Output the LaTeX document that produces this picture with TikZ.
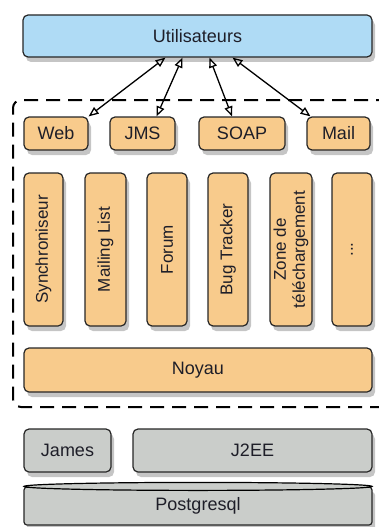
\documentclass[tikz,border=0pt]{standalone}
\usepackage{fontspec}
\newfontfamily\diagfont{Liberation Sans}
\usepackage{tikz}
\usetikzlibrary{
    arrows.meta,
    positioning,
    shadows
}
\definecolor{userblue}{HTML}{AFDBF5}
\definecolor{modorange}{HTML}{F8CB8C}
\definecolor{infragray}{HTML}{CACDCA}
\definecolor{shadowgray}{HTML}{5A5A5A}
\definecolor{labelink}{HTML}{1E1E28}
\tikzstyle{layer}=[
    rectangle,
    rounded corners=5pt,
    inner sep=0pt,
    align=center,
    draw=black!85,
    line width=1.2pt,
    text=labelink,
    font=\diagfont\fontsize{18}{18}\selectfont,
    drop shadow={shadow xshift=3pt,shadow yshift=-5pt,fill=shadowgray,opacity=0.35}
]
\tikzstyle{user}=[layer,fill=userblue]
\tikzstyle{module}=[layer,fill=modorange]
\tikzstyle{infra}=[layer,fill=infragray]
\tikzstyle{vmodule}=[module,rotate=90,minimum width=153pt,
    font=\diagfont\fontsize{17}{19}\selectfont]
\tikzstyle{arrow}=[line width=1.3pt,{Triangle[open,length=10pt,width=8pt]}-{Triangle[open,length=10pt,width=8pt]}]

\begin{document}
\begin{tikzpicture}[x=1pt,y=-1pt]
\useasboundingbox (0,0) rectangle (379,527);
% acteurs
\node[user,minimum width=349pt,minimum height=42pt] (users) at (197.5,36) {Utilisateurs};
% plate-forme
\draw[line width=2pt,dash pattern=on 14pt off 8pt,rounded corners=8pt]
    (390,100) -- (13,100) -- (13,407) -- (390,407);
\node[module,minimum width=64pt,minimum height=33pt] (web) at (56,133.5) {Web};
\node[module,minimum width=65pt,minimum height=33pt] (jms) at (142.5,133.5) {JMS};
\node[module,minimum width=86pt,minimum height=33pt] (soap) at (242,133.5) {SOAP};
\node[module,minimum width=63pt,minimum height=33pt] (mail) at (338.5,133.5) {Mail};
\node[vmodule,minimum height=39pt] (sync) at (43.5,249.5) {Synchroniseur};
\node[vmodule,minimum height=41pt] (mlist) at (105.5,249.5) {Mailing List};
\node[vmodule,minimum height=40pt] (forum) at (167,249.5) {Forum};
\node[vmodule,minimum height=40pt] (bugs) at (228,249.5) {Bug Tracker};
\node[vmodule,minimum height=42pt] (dl) at (291,249.5) {Zone de\\téléchargement};
\node[vmodule,minimum height=40pt] (more) at (352,249.5) {...};
\node[module,minimum width=348pt,minimum height=44pt] (core) at (198,370) {Noyau};
% infrastructure
\node[infra,minimum width=87pt,minimum height=43pt] (james) at (67.5,450.5) {James};
\node[infra,minimum width=239pt,minimum height=43pt] (j2ee) at (252.5,450.5) {J2EE};
\node[infra,rounded corners=3pt,minimum width=348pt,minimum height=38pt] (db) at (198,506) {Postgresql};
\draw[line width=1.2pt,fill=infragray] (db.north) ellipse [x radius=174pt,y radius=4pt];

\draw[arrow] (users.south) ++(-32,0) coordinate (uw) (uw) -- (web.north east);
\draw[arrow] (users.south) ++(-15,0) coordinate (uj) (uj) -- ([xshift=14pt]jms.north);
\draw[arrow] (users.south) ++(12,0) coordinate (us) (us) -- ([xshift=-10pt]soap.north);
\draw[arrow] (users.south) ++(35,0) coordinate (um) (um) -- ([xshift=-28pt]mail.north);
\end{tikzpicture}
\end{document}
